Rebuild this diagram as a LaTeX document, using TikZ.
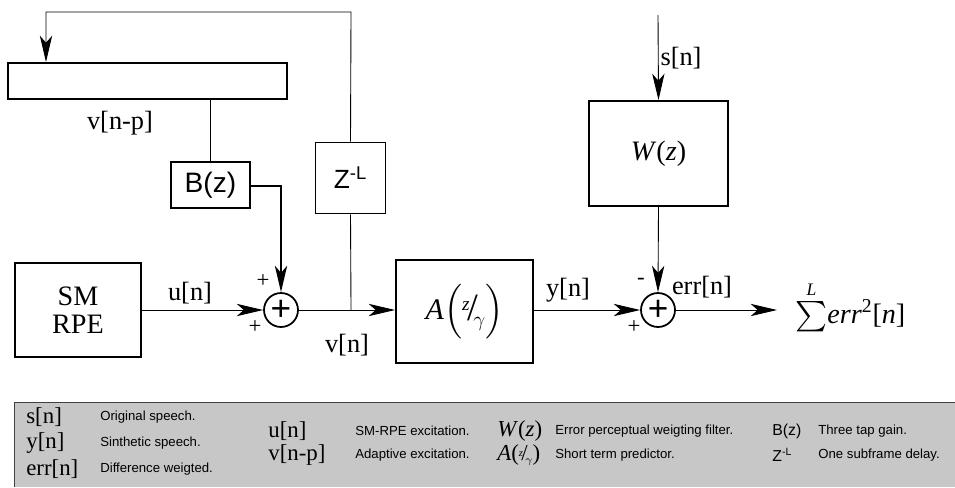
\documentclass[tikz,border=0pt]{standalone}
\usepackage{exscale}
\usepackage{fontspec}
\setmainfont{Liberation Serif}
\setsansfont{Liberation Sans}
\usetikzlibrary{arrows.meta, positioning}
\tikzset{
	blk/.style={draw, line width=1.1pt, inner sep=0pt, align=center},
	sumnode/.style={draw, circle, line width=1pt, minimum size=0.68cm, inner sep=0pt,
		font=\sffamily\fontsize{20}{20}\selectfont},
	sig/.style={-{Stealth[length=15pt, width=7pt, inset=4pt]}, line width=0.5pt},
	sigb/.style={sig, line width=1pt},
	lbl/.style={font=\fontsize{15}{15}\selectfont, inner sep=0pt},
	sgn/.style={font=\fontsize{13}{13}\selectfont, inner sep=0pt},
	legsym/.style={anchor=west, font=\fontsize{13}{13}\selectfont, inner sep=0pt},
	legtxt/.style={anchor=west, font=\sffamily\fontsize{7.5}{8}\selectfont, inner sep=0pt}
}

\begin{document}
\begin{tikzpicture}[x=0.02cm, y=-0.02cm]
	\useasboundingbox (0,0) rectangle (955,487);
	% blocks
	\node[blk, minimum width=5.58cm, minimum height=0.72cm] (buf) at (147.5,81) {};
	\node[blk, minimum width=1.58cm, minimum height=0.92cm, font=\sffamily\fontsize{16}{16}\selectfont] (bz) at (210.5,185) {B(z)};
	\node[blk, minimum width=1.4cm, minimum height=1.42cm, font=\sffamily\fontsize{15}{15}\selectfont] (zl) at (350.5,178) {Z\textsuperscript{-L}};
	\node[blk, minimum width=2.52cm, minimum height=1.88cm, font=\fontsize{16}{16}\selectfont] (rpe) at (78,310) {SM\\RPE};
	\node[sumnode] (sa) at (281,310) {+};
	\node[blk, minimum width=2.74cm, minimum height=2.06cm, font=\fontsize{17}{17}\selectfont] (az) at (464.5,311.5)
		{\textit{A}$\Bigl($\raisebox{5pt}{\fontsize{11}{11}\selectfont\textit{z}}\kern-1.5pt\raisebox{-1pt}{\fontsize{22}{22}\selectfont/}\kern-2.5pt\raisebox{-4pt}{\fontsize{12}{12}\selectfont$\gamma$}$\Bigr)$};
	\node[blk, minimum width=2.78cm, minimum height=2.1cm, font=\fontsize{16}{16}\selectfont] (wz) at (658.5,153.5) {\textit{W}(\textit{z})};
	\node[sumnode] (sb) at (658,310) {+};
	\node[anchor=west, inner sep=0pt, font=\fontsize{16}{16}\selectfont] (cost) at (795,306)
		{{\fontsize{19}{19}\selectfont$\sum\limits^{\mbox{\fontsize{10}{10}\selectfont\textit{L}}}$}\textit{err}\textsuperscript{2}[\textit{n}]};
	\coordinate (sin) at (658,15);
	\coordinate (out) at (777,310);
	\coordinate (fbr) at (351,12);
	\coordinate (fbl) at (46,12);
	\coordinate (bzr) at (281,186);
	\coordinate (vj) at (351,310);
	% labels
	\node[lbl] (vnp) at (120,123) {v[n-p]};
	\node[lbl] (un) at (190,293) {u[n]};
	\node[lbl] (vn) at (347,345) {v[n]};
	\node[lbl] (yn) at (568,290) {y[n]};
	\node[lbl] (en) at (702,287) {err[n]};
	\node[lbl] (sn) at (681,58) {s[n]};
	\node[sgn] (pa1) at (263,281) {+};
	\node[sgn] (pa2) at (255,327) {+};
	\node[sgn] (mb1) at (641,281) {-};
	\node[sgn] (pb2) at (634,327) {+};
	% connectors
	\draw[line width=1pt] (buf.south -| bz) -- (bz.north);
	\draw[sigb] (bz.east |- bzr) -- (bzr) -- (sa.north);
	\draw[sig] (rpe.east |- sa) -- (sa.west);
	\draw[sig] (sa.east) -- (az.west |- sa);
	\draw[line width=0.5pt] (zl.south) -- (vj);
	\draw[sig] (zl.north) -- (fbr) -- (fbl) -- (buf.north -| fbl);
	\draw[sig] (az.east |- sb) -- (sb.west);
	\draw[sig] (sin) -- (wz.north);
	\draw[sig] (wz.south) -- (sb.north);
	\draw[sig] (sb.east) -- (out);
	% legend
	\node[fill=black!22, minimum width=18.8cm, minimum height=1.68cm, inner sep=0pt] (leg) at (485,445) {};
	\draw[black!75, line width=0.8pt] (leg.south west) -- (leg.north west) -- (leg.north east);
	\node[legsym] (l1) at (26,417) {s[n]};
	\node[legtxt] (t1) at (100,417) {Original speech.};
	\node[legsym] (l2) at (26,443) {y[n]};
	\node[legtxt] (t2) at (100,443) {Sinthetic speech.};
	\node[legsym] (l3) at (26,469) {err[n]};
	\node[legtxt] (t3) at (100,469) {Difference weigted.};
	\node[legsym] (l4) at (268,431) {u[n]};
	\node[legtxt] (t4) at (355,431) {SM-RPE excitation.};
	\node[legsym] (l5) at (268,455) {v[n-p]};
	\node[legtxt] (t5) at (355,455) {Adaptive excitation.};
	\node[legsym] (l6) at (497,431) {\textit{W}(\textit{z})};
	\node[legtxt] (t6) at (555,431) {Error perceptual weigting filter.};
	\node[legsym] (l7) at (497,455) {\textit{A}(\raisebox{2pt}{\fontsize{6}{6}\selectfont\textit{z}}\kern-1pt/\kern-1.5pt\raisebox{-1.5pt}{\fontsize{6}{6}\selectfont$\gamma$})};
	\node[legtxt] (t7) at (555,455) {Short term predictor.};
	\node[legtxt, font=\sffamily\fontsize{9}{9}\selectfont] (l8) at (772,431) {B(z)};
	\node[legtxt, font=\sffamily\fontsize{9}{9}\selectfont] (l9) at (772,455) {Z\textsuperscript{-L}};
	\node[legtxt] (t8) at (818,431) {Three tap gain.};
	\node[legtxt] (t9) at (818,455) {One subframe delay.};
\end{tikzpicture}
\end{document}
